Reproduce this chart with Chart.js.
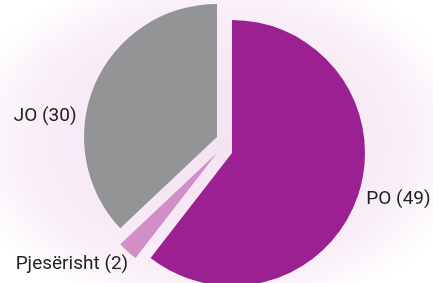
<!DOCTYPE html>
<html>
<head>
<meta charset="utf-8">
<script src="https://cdn.jsdelivr.net/npm/chart.js@4"></script>
<style>
  html, body { margin: 0; padding: 0; }
  body {
    width: 433px; height: 283px; overflow: hidden; position: relative;
    background: radial-gradient(ellipse 62% 66% at 50% 50%, #f5e3f2 0%, #f7e8f5 45%, #f9eff8 72%, #ffffff 97%);
  }
  canvas { position: absolute; left: 0; top: 0; }
</style>
</head>
<body>
<canvas id="c0" width="433" height="283"></canvas>
<canvas id="c1" width="433" height="283"></canvas>
<canvas id="c2" width="433" height="283"></canvas>
<script>
const labels = ['PO', 'Pjesërisht', 'JO'];
const values = [49, 2, 30];
const colors = ['#9b2192', '#d08fc6', '#939496'];

// each slice is pulled away from the base centre by its own amount (px)
const shifts = [[15, 0], [0, 0], [0, -16]];
// label angle correction from the slice middle (degrees)
const labelNudge = [0, -3.5, -15];

const sliceLabel = {
  id: 'sliceLabel',
  afterDatasetsDraw(chart, args, opts) {
    const i = opts.index;
    const arc = chart.getDatasetMeta(0).data[i];
    const ctx = chart.ctx;
    const mid = (arc.startAngle + arc.endAngle) / 2 + labelNudge[i] * Math.PI / 180;
    const d = arc.outerRadius + 9;
    const x = arc.x + Math.cos(mid) * d;
    const y = arc.y + Math.sin(mid) * d;
    ctx.save();
    ctx.font = '19px Roboto';
    ctx.fillStyle = '#222222';
    ctx.textAlign = Math.cos(mid) >= 0 ? 'left' : 'right';
    ctx.textBaseline = 'middle';
    ctx.fillText(labels[i] + ' (' + values[i] + ')', x, y);
    ctx.restore();
  }
};

labels.forEach(function (label, i) {
  var dx = shifts[i][0], dy = shifts[i][1];
  new Chart(document.getElementById('c' + i), {
    type: 'pie',
    data: {
      labels: labels,
      datasets: [{
        data: values,
        backgroundColor: colors.map(function (c, j) { return j === i ? c : 'rgba(0,0,0,0)'; }),
        borderWidth: 0,
        radius: 133,
        clip: false
      }]
    },
    options: {
      responsive: false,
      animation: false,
      layout: {
        padding: {
          left: 1 + Math.max(0, 2 * dx),
          right: Math.max(0, -2 * dx),
          top: 23 + Math.max(0, 2 * dy),
          bottom: Math.max(0, -2 * dy)
        }
      },
      plugins: {
        legend: { display: false },
        tooltip: { enabled: false },
        sliceLabel: { index: i }
      }
    },
    plugins: [sliceLabel]
  });
});
</script>
</body>
</html>
